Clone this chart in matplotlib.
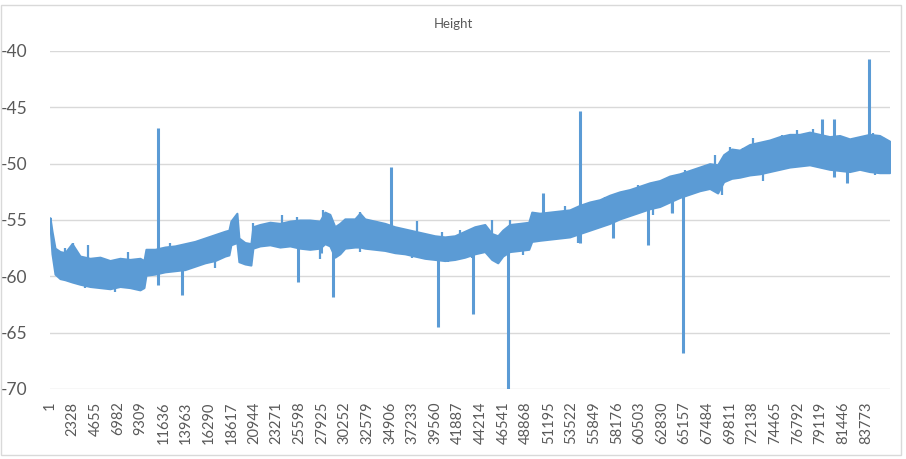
import numpy as np
import matplotlib.pyplot as plt
from matplotlib.patches import Rectangle

# envelope of the dense signal (sample index, upper and lower edge of the band)
knot_idx = [0, 205, 513, 1026, 1539, 2257, 3078, 4104, 5130, 6156, 7182, 8208,
            9234, 9644, 9850, 10773, 11799, 12825, 13851, 14877, 15903, 16929,
            17955, 18365, 18571, 19186, 19391, 20007, 20623, 20828, 21546, 22572,
            23598, 24624, 25650, 26676, 27702, 28215, 28728, 29241, 29754, 30267,
            31293, 31806, 32319, 33345, 34371, 35397, 36423, 37449, 38475, 39501,
            40527, 41553, 42579, 43605, 44631, 45349, 45965, 46478, 47196, 48222,
            49145, 49453, 50274, 51300, 52326, 53352, 54378, 55404, 56430, 57456,
            58482, 59508, 60534, 61560, 62586, 63612, 64638, 65664, 66690, 67716,
            68537, 69152, 69973, 70794, 71820, 72846, 73872, 74898, 75924, 76950,
            77976, 79002, 80028, 81054, 82080, 83106, 84132, 85158, 86184]
band_upper = [-54.8, -56.0, -57.5, -57.8, -57.9, -57.1, -58.2, -58.4, -58.3, -58.6, -58.4, -58.5,
              -58.4, -58.6, -57.6, -57.6, -57.4, -57.3, -57.1, -56.9, -56.6, -56.3,
              -56.0, -55.9, -55.1, -54.4, -56.6, -57.0, -57.1, -55.6, -55.4, -55.2,
              -55.3, -55.1, -55.0, -55.0, -55.1, -54.3, -54.5, -55.6, -55.3, -54.9,
              -54.9, -54.4, -54.9, -55.1, -55.3, -55.6, -55.8, -56.0, -56.2, -56.4,
              -56.5, -56.4, -56.0, -55.6, -55.4, -56.2, -56.4, -55.9, -55.4, -55.3,
              -55.2, -54.3, -54.4, -54.3, -54.2, -54.1, -53.7, -53.4, -53.2, -52.8,
              -52.5, -52.3, -52.0, -51.7, -51.5, -51.1, -50.9, -50.6, -50.3, -50.0,
              -50.1, -49.2, -48.7, -48.8, -48.3, -48.1, -47.9, -47.6, -47.4, -47.4,
              -47.2, -47.4, -47.6, -47.5, -47.8, -47.6, -47.4, -47.5, -48.0]
band_lower = [-55.5, -58.0, -59.8, -60.2, -60.3, -60.5, -60.7, -60.9, -61.0, -61.1, -60.9, -61.0,
              -61.2, -61.0, -59.9, -59.8, -59.6, -59.5, -59.4, -59.1, -58.8, -58.6,
              -58.2, -58.1, -57.2, -57.0, -58.7, -58.9, -59.0, -57.5, -57.3, -57.2,
              -57.4, -57.3, -57.5, -57.6, -57.5, -57.1, -57.3, -58.3, -58.0, -57.5,
              -57.4, -57.4, -57.5, -57.6, -57.7, -57.9, -58.0, -58.2, -58.4, -58.5,
              -58.6, -58.5, -58.3, -58.0, -57.8, -58.5, -58.8, -58.2, -57.8, -57.7,
              -57.6, -56.9, -56.8, -56.7, -56.6, -56.5, -56.2, -55.9, -55.6, -55.3,
              -54.9, -54.6, -54.3, -54.0, -53.8, -53.4, -53.0, -52.7, -52.4, -52.2,
              -52.6, -51.6, -51.3, -51.2, -51.0, -50.9, -50.7, -50.5, -50.3, -50.2,
              -50.1, -50.3, -50.5, -50.6, -50.7, -50.5, -50.7, -50.8, -50.8]

# single-sample spikes: index, band level where they start, peak value
spike_idx = [11086, 11086, 13543, 25445, 27805, 29036, 34987, 39809, 43400, 46990,
             50582, 54378, 54378, 57764, 61355, 63817, 64946, 79207, 80438, 80438,
             81772, 84030, 84748]
spike_base = [-58.5, -58.5, -58.3, -56.3, -56.3, -56.8, -56.2, -57.5, -57.0, -56.5,
              -55.6, -54.8, -54.8, -54.0, -53.1, -52.3, -51.8, -48.8, -48.9, -48.9,
              -49.1, -49.1, -49.1]
spike_val = [-46.85, -60.8, -61.7, -60.5, -57.9, -61.8, -50.3, -64.5, -63.3, -70.0,
             -52.6, -45.3, -57.0, -56.6, -57.2, -54.4, -66.8, -46.0, -46.0, -51.2,
             -51.7, -40.7, -50.6]

# small excursions just outside the band (the ragged edge)
tooth_idx = [1540, 2361, 3901, 8007, 12318, 14166, 20838, 23815, 25355, 28023,
             31822, 37673, 40239, 42087, 45371, 47219, 52865, 55944, 56971, 60358,
             65183, 68262, 69802, 71136, 72163, 75140, 76680, 78322, 84481, 85507,
             3593, 6672, 9239, 16937, 20222, 27716, 29563, 31822, 37160, 40855,
             43318, 48553, 54199, 61898, 63848, 68981, 73189, 84686]
tooth_base = [-59.0, -58.5, -59.0, -59.5, -58.5, -58.0, -56.5, -56.0, -56.0, -55.5,
              -56.0, -57.0, -57.5, -57.3, -56.5, -56.5, -55.5, -54.5, -54.5, -53.0,
              -52.0, -51.0, -50.0, -50.0, -49.5, -49.0, -49.0, -48.5, -49.0, -49.0,
              -59.5, -60.0, -60.0, -58.0, -58.0, -57.0, -57.0, -56.5, -57.0, -57.5,
              -57.0, -56.5, -55.5, -53.0, -52.5, -51.0, -50.0, -49.5]
tooth_val = [-57.5, -57.0, -57.2, -57.8, -57.0, -57.0, -55.3, -54.6, -54.7, -54.1,
             -54.3, -55.1, -56.1, -55.9, -55.0, -55.0, -53.8, -53.3, -53.0, -51.9,
             -50.6, -49.2, -48.5, -48.6, -47.7, -47.5, -47.0, -46.9, -47.3, -47.6,
             -61.0, -61.4, -61.2, -59.3, -59.0, -58.5, -58.1, -57.8, -58.4, -58.7,
             -58.4, -58.1, -57.0, -54.6, -54.4, -52.8, -51.5, -51.0]

tick_labels = [1, 2328, 4655, 6982, 9309, 11636, 13963, 16290, 18617, 20944, 23271,
               25598, 27925, 30252, 32579, 34906, 37233, 39560, 41887, 44214, 46541,
               48868, 51195, 53522, 55849, 58176, 60503, 62830, 65157, 67484, 69811,
               72138, 74465, 76792, 79119, 81446, 83773]
n_samples = 86230

plt.rcParams['font.family'] = ['Lato', 'DejaVu Sans']
plt.rcParams['axes.unicode_minus'] = False
blue = '#5B9BD5'
grey = '#595959'

fig = plt.figure(figsize=(9.06, 4.59), dpi=100)
ax = fig.add_axes([50 / 906, 70 / 459, 840 / 906, 338 / 459])

# light frame around the chart
fig.patches.append(Rectangle((1 / 906, 4 / 459), 900 / 906, 450 / 459, transform=fig.transFigure,
                             fill=False, edgecolor='#d9d9d9', linewidth=1))

ax.fill_between(knot_idx, band_lower, band_upper, color=blue, linewidth=1.5,
                edgecolor=blue, zorder=3)
ax.vlines(tooth_idx, tooth_base, tooth_val, color=blue, linewidth=1.6, zorder=3)
ax.vlines(spike_idx, spike_base, spike_val, color=blue, linewidth=2.2, zorder=3)

ax.set_xlim(0, n_samples)
ax.set_ylim(-70, -40)
ax.set_yticks([-70, -65, -60, -55, -50, -45, -40])
ax.set_xticks([t - 1 for t in tick_labels])
ax.set_xticklabels([str(t) for t in tick_labels], rotation=90)
ax.tick_params(axis='y', length=0, pad=16, labelsize=12.5, labelcolor=grey)
ax.tick_params(axis='x', length=0, pad=9, labelsize=10.5, labelcolor=grey)
ax.grid(axis='y', color='#d9d9d9', linewidth=1)
ax.set_axisbelow(True)
for s in ax.spines.values():
    s.set_visible(False)

fig.text(453 / 906, 1 - 24 / 459, 'Height', ha='center', va='center', fontsize=9.5, color=grey)

fig.savefig('out.png', dpi=100)
